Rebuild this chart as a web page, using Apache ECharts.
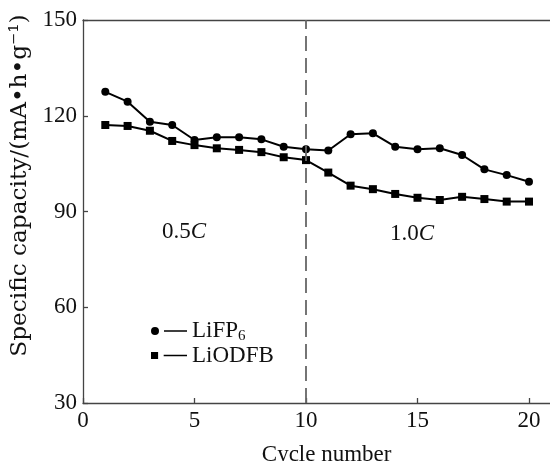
<!DOCTYPE html>
<html>
<head>
<meta charset="utf-8">
<script src="https://cdn.jsdelivr.net/npm/echarts@6/dist/echarts.min.js"></script>
<style>html,body{margin:0;padding:0;background:#fff}#c{width:550px;height:461px}</style>
</head>
<body>
<div id="c"></div>
<script>
var cycles = [1,2,3,4,5,6,7,8,9,10,11,12,13,14,15,16,17,18,19,20];
var lifp6 = [127.5,124.4,118.1,117.1,112.4,113.3,113.3,112.6,110.3,109.5,109.1,114.2,114.5,110.3,109.5,109.8,107.7,103.2,101.4,99.3];
var liodfb = [117.1,116.8,115.3,112.1,110.8,109.8,109.3,108.6,107.0,106.1,102.2,98.1,97.0,95.5,94.3,93.6,94.6,93.9,93.1,93.1];
var xTicks = [0,5,10,15,20];
var yTicks = [30,60,90,120,150];

var font = 'Liberation Serif';
var axisColor = '#444';
function pairs(v){ return cycles.map(function(c,i){ return [c, v[i]]; }); }

var chart = echarts.init(document.getElementById('c'));
chart.setOption({
  animation: false,
  backgroundColor: '#fff',
  grid: { left: 83, top: 20, right: -1.3, bottom: 58, containLabel: false, outerBoundsMode: 'none' },
  legend: {
    orient: 'vertical', left: 146, top: 314, itemGap: 0,
    itemWidth: 36, itemHeight: 8,
    textStyle: { fontFamily: font, fontSize: 23, color: '#111', lineHeight: 24,
      rich: { a: { fontFamily: font, fontSize: 23, color: '#111' }, s: { fontFamily: font, fontSize: 15, color: '#111', padding: [10,0,0,0] } } },
    formatter: function(n){ return n === 'LiFP6' ? '{a|LiFP}{s|6}' : '{a|' + n + '}'; },
    data: [
      { name: 'LiFP6', icon: 'path://M0,4a4,4 0 1,0 8,0a4,4 0 1,0 -8,0ZM13,3.2h23v1.6h-23Z' },
      { name: 'LiODFB', icon: 'path://M0.5,0.5h7v7h-7ZM13,3.2h23v1.6h-23Z' }
    ]
  },
  xAxis: [{
    type: 'value', min: 0, max: 21, interval: 5,
    name: 'Cycle number', nameLocation: 'middle', nameGap: 40,
    nameTextStyle: { fontFamily: font, fontSize: 23, color: '#111', padding: [0,0,0,19] },
    axisLine: { lineStyle: { color: axisColor, width: 1.3 } },
    axisTick: { inside: true, length: 5, lineStyle: { color: axisColor, width: 1.3 } },
    axisLabel: { fontFamily: font, fontSize: 23, color: '#111', margin: 6,
      formatter: function(v){ return xTicks.indexOf(v) >= 0 ? String(v) : ''; } },
    splitLine: { show: false }
  }, {
    type: 'value', min: 0, max: 21, position: 'top',
    axisLine: { lineStyle: { color: axisColor, width: 1.3 } },
    axisTick: { show: false }, axisLabel: { show: false }, splitLine: { show: false }
  }],
  yAxis: {
    type: 'value', min: 30, max: 150, interval: 30,
    name: 'Specific capacity/(mA\u2022h\u2022g\u207B\u00B9)', nameLocation: 'middle', nameGap: 45, nameRotate: 90,
    nameTextStyle: { fontFamily: 'DejaVu Serif', fontSize: 23.2, color: '#111', padding: [0,0,0,52] },
    axisLine: { lineStyle: { color: axisColor, width: 1.3 } },
    axisTick: { inside: true, length: 5, lineStyle: { color: axisColor, width: 1.3 } },
    axisLabel: { fontFamily: font, fontSize: 23, color: '#111', margin: 6,
      formatter: function(v){ return yTicks.indexOf(v) >= 0 ? String(v) : ''; } },
    splitLine: { show: false }
  },
  series: [{
    name: 'LiFP6', type: 'line', data: pairs(lifp6),
    symbol: 'circle', symbolSize: 8,
    lineStyle: { color: '#000', width: 2 }, itemStyle: { color: '#000' },
    markLine: {
      silent: true, symbol: 'none', label: { show: false },
      lineStyle: { color: '#666', width: 1.8, type: [15, 7] },
      data: [{ xAxis: 10 }]
    }
  }, {
    name: 'LiODFB', type: 'line', data: pairs(liodfb),
    symbol: 'rect', symbolSize: 8,
    lineStyle: { color: '#000', width: 2 }, itemStyle: { color: '#000' }
  }],
  graphic: [{
    type: 'text', left: 162, top: 220,
    style: { text: '{n|0.5}{c|C}', rich: { n: { fontFamily: font, fontSize: 23, fill: '#111' }, c: { fontFamily: font, fontSize: 23, fontStyle: 'italic', fill: '#111' } } }
  }, {
    type: 'text', left: 390, top: 222,
    style: { text: '{n|1.0}{c|C}', rich: { n: { fontFamily: font, fontSize: 23, fill: '#111' }, c: { fontFamily: font, fontSize: 23, fontStyle: 'italic', fill: '#111' } } }
  }]
});
</script>
</body>
</html>
